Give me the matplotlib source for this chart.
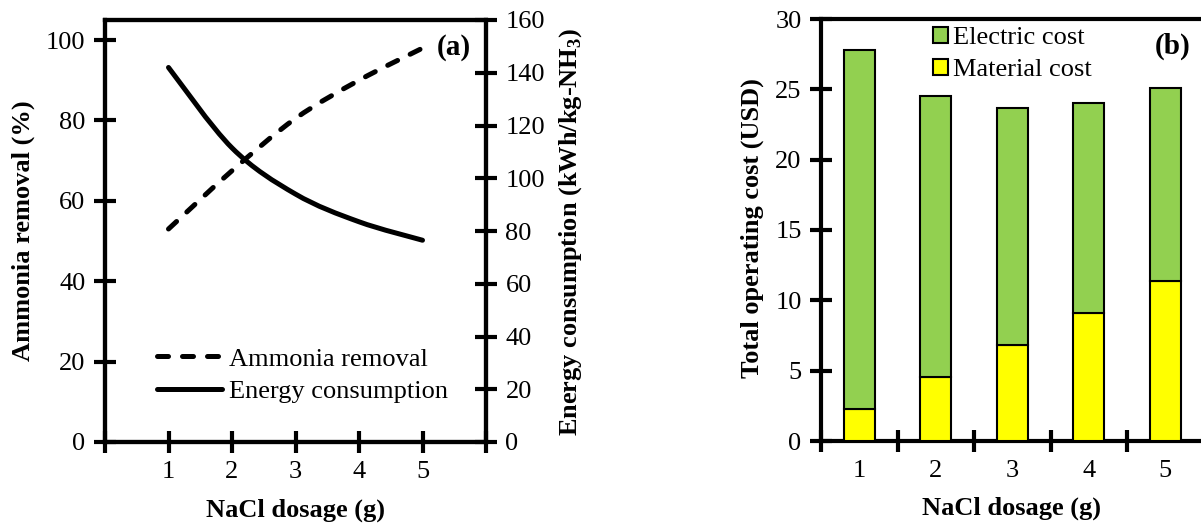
import matplotlib
matplotlib.use("Agg")
import matplotlib.pyplot as plt
from matplotlib.path import Path
from matplotlib.patches import PathPatch, Patch
from matplotlib.lines import Line2D

plt.rcParams['font.family'] = ['Liberation Serif', 'DejaVu Serif']
plt.rcParams['mathtext.fontset'] = 'custom'
plt.rcParams['mathtext.rm'] = 'Liberation Serif'
plt.rcParams['mathtext.bf'] = 'Liberation Serif:bold'

# (a) lines
dosage = [1, 2, 3, 4, 5]
ammonia_removal = [53, 67.5, 80.5, 90, 98]        # %
energy_use = [142, 111.5, 94, 83.5, 76.5]         # kWh/kg-NH3

# (b) stacked bars
material_cost = [2.3, 4.55, 6.8, 9.1, 11.4]
electric_cost = [25.5, 19.95, 16.9, 14.95, 13.7]

GREEN = '#92D050'
YELLOW = '#FFFF00'
DASH = (0, (2.2, 2.8))


def smooth_path(xs, ys):
    # excel-style smoothed line: bezier segments through the data points
    verts = [(xs[0], ys[0])]
    codes = [Path.MOVETO]
    n = len(xs)
    for i in range(n - 1):
        x0, y0 = (xs[i - 1], ys[i - 1]) if i > 0 else (xs[i], ys[i])
        x1, y1 = xs[i], ys[i]
        x2, y2 = xs[i + 1], ys[i + 1]
        x3, y3 = (xs[i + 2], ys[i + 2]) if i + 2 < n else (x2, y2)
        c1 = (x1 + (x2 - x0) / 6, y1 + (y2 - y0) / 6)
        c2 = (x2 - (x3 - x1) / 6, y2 - (y3 - y1) / 6)
        verts += [c1, c2, (x2, y2)]
        codes += [Path.CURVE4] * 3
    return Path(verts, codes)


fig = plt.figure(figsize=(12.01, 5.27), dpi=100)
W, H = 1201, 527

def frac(x0, y0, x1, y1):
    return [x0 / W, 1 - y1 / H, (x1 - x0) / W, (y1 - y0) / H]

tick_kw = dict(direction='inout', length=16, width=3, labelsize=19, pad=6)

# ---------- (a) ----------
ax = fig.add_axes(frac(105, 20, 486, 442))
ax2 = ax.twinx()
for a in (ax, ax2):
    for s in a.spines.values():
        s.set_linewidth(3)
ax.set_xlim(0, 6)
ax.set_ylim(0, 105)
ax2.set_ylim(0, 160)
ax.set_xticks(range(0, 7))
ax.set_xticklabels([''] + [str(d) for d in dosage] + [''])
ax.set_yticks(range(0, 101, 20))
ax2.set_yticks(range(0, 161, 20))
ax.tick_params(axis='both', **tick_kw)
ax2.tick_params(axis='y', **tick_kw)

p1 = PathPatch(smooth_path(dosage, ammonia_removal), fill=False, lw=3.6,
               ls=DASH, capstyle='round', transform=ax.transData)
ax.add_patch(p1)
p2 = PathPatch(smooth_path(dosage, energy_use), fill=False, lw=3.6,
               capstyle='round', transform=ax2.transData)
ax2.add_patch(p2)

handles = [Line2D([], [], color='k', lw=3.6, ls=DASH, dash_capstyle='round'),
           Line2D([], [], color='k', lw=3.6, solid_capstyle='round')]
ax2.legend(handles, ['Ammonia removal', 'Energy consumption'], loc='lower left',
           bbox_to_anchor=(0.11, 0.067), frameon=False, fontsize=19, handlelength=2.45,
           handletextpad=0.25, labelspacing=0.34, borderaxespad=0)
ax.text(0.96, 0.935, '(a)', transform=ax.transAxes, ha='right', va='center',
        fontsize=21, fontweight='bold')

fig.text(23 / W, 1 - 231 / H, 'Ammonia removal (%)', rotation=90, ha='center',
         va='center', fontsize=19, fontweight='bold')
fig.text(571 / W, 1 - 232 / H, r'Energy consumption (kWh/kg-NH$_\mathbf{3}$)',
         rotation=90, ha='center', va='center', fontsize=19, fontweight='bold')
fig.text(295 / W, 1 - 510 / H, 'NaCl dosage (g)', ha='center', va='center',
         fontsize=19, fontweight='bold')

# ---------- (b) ----------
bx = fig.add_axes(frac(821, 19, 1203.5, 441))
for s in bx.spines.values():
    s.set_linewidth(3)
bx.bar(dosage, material_cost, width=0.41, color=YELLOW, edgecolor='k', lw=1.5,
       label='Material cost', zorder=3)
bx.bar(dosage, electric_cost, width=0.41, bottom=material_cost, color=GREEN,
       edgecolor='k', lw=1.5, label='Electric cost', zorder=3)
bx.set_xlim(0.5, 5.5)
bx.set_ylim(0, 30)
bx.set_yticks(range(0, 31, 5))
bx.set_xticks([0.5, 1.5, 2.5, 3.5, 4.5, 5.5])
bx.set_xticklabels([])
bx.set_xticks(dosage, minor=True)
bx.set_xticklabels([str(d) for d in dosage], minor=True)
bx.tick_params(axis='both', which='major', **tick_kw)
bx.tick_params(axis='x', which='minor', length=0, labelsize=19, pad=14)

leg_handles = [Patch(facecolor=GREEN, edgecolor='k', lw=1.5),
               Patch(facecolor=YELLOW, edgecolor='k', lw=1.5)]
bx.legend(leg_handles, ['Electric cost', 'Material cost'], loc='upper left',
          bbox_to_anchor=(0.265, 1.006), frameon=False, fontsize=19,
          handlelength=0.57, handleheight=0.57, handletextpad=0.2,
          labelspacing=0.36, borderaxespad=0)
bx.text(0.965, 0.935, '(b)', transform=bx.transAxes, ha='right', va='center',
        fontsize=21, fontweight='bold')

fig.text(752 / W, 1 - 228 / H, 'Total operating cost (USD)', rotation=90,
         ha='center', va='center', fontsize=19, fontweight='bold')
fig.text(1012 / W, 1 - 508 / H, 'NaCl dosage (g)', ha='center', va='center',
         fontsize=19, fontweight='bold')

fig.savefig('out.png', dpi=100)
